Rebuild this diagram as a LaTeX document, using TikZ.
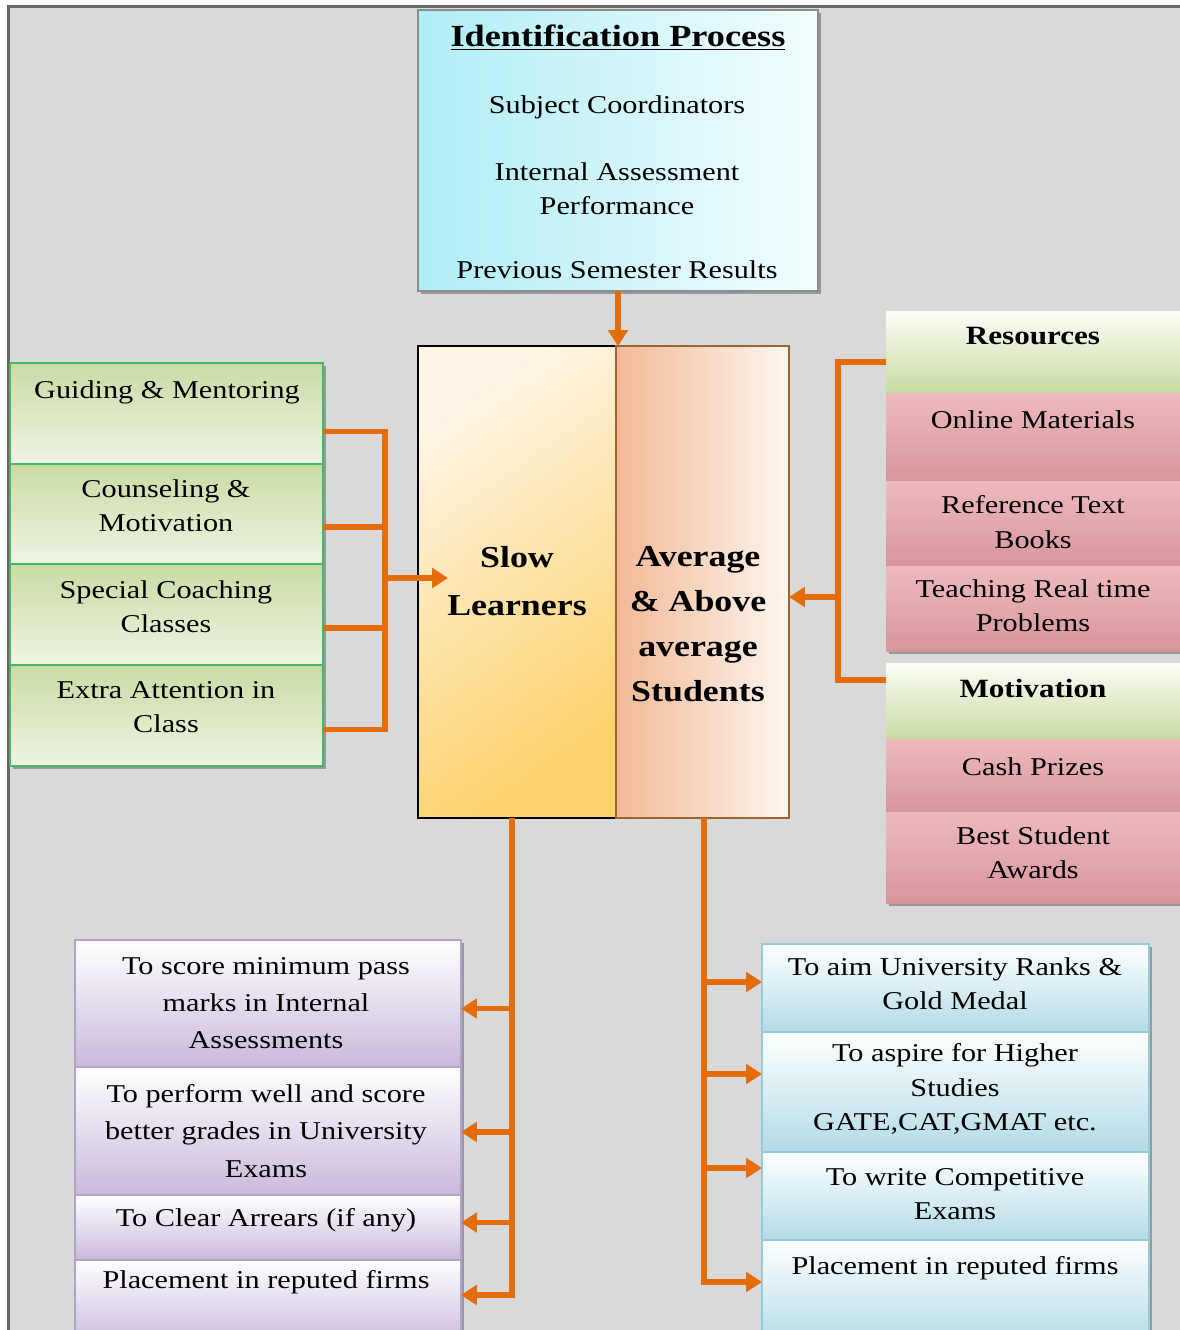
\documentclass[tikz,border=0pt]{standalone}
\usepackage{fontspec}
\setmainfont{Liberation Serif}[FakeStretch=1.18]
\usetikzlibrary{arrows.meta,calc,shadows}

\definecolor{pagegray}{HTML}{D9D9D9}
\definecolor{framegray}{HTML}{666666}
\definecolor{arrorange}{HTML}{E46C0A}
\definecolor{cyanA}{HTML}{B0EDF6}
\definecolor{cyanB}{HTML}{F2FDFE}
\definecolor{creamA}{HTML}{FEF5E6}
\definecolor{creamB}{HTML}{FCD16A}
\definecolor{salmonA}{HTML}{F2B996}
\definecolor{salmonB}{HTML}{FDF6EF}
\definecolor{greenA}{HTML}{C9DBA3}
\definecolor{greenB}{HTML}{EFF4E4}
\definecolor{greenLine}{HTML}{45B866}
\definecolor{headTop}{HTML}{FCFDF8}
\definecolor{headBot}{HTML}{C7DBA2}
\definecolor{pinkA}{HTML}{EDBABF}
\definecolor{pinkM}{HTML}{F7E1E3}
\definecolor{pinkB}{HTML}{D8959C}
\definecolor{lavA}{HTML}{FFFFFF}
\definecolor{lavB}{HTML}{C9B9DB}
\definecolor{lavLine}{HTML}{B3A3CC}
\definecolor{blueA}{HTML}{FFFFFF}
\definecolor{blueB}{HTML}{B3DBE6}
\definecolor{blueLine}{HTML}{93CDDC}

% box from corner (x1,y1) to corner (x2,y2), pixel-like units
\newcommand\pbox[6]{%
  \node[#1, minimum width={0.02cm*(#5-#3)}, minimum height={0.02cm*(#6-#4)}]
    (#2) at ({(#3+#5)/2},{(#4+#6)/2}) {};}

\begin{document}
\begin{tikzpicture}[x=0.02cm,y=-0.02cm,
  base/.style={rectangle, inner sep=0pt, outer sep=0pt},
  shade/.style={drop shadow={shadow xshift=1.5pt, shadow yshift=-1.5pt, opacity=0.45, fill=black!70}},
  identbox/.style={base, draw=black!45, line width=0.6pt, left color=cyanA, right color=cyanB, shade},
  slowbox/.style={base, draw=black, line width=1pt, top color=creamA, bottom color=creamB, shading angle=35},
  avebox/.style={base, draw=brown!80!black, line width=0.6pt, left color=salmonA, right color=salmonB},
  gbox/.style={base, draw=greenLine, line width=0.8pt, top color=greenA, bottom color=greenB, shade},
  headbox/.style={base, top color=headTop, bottom color=headBot, shade},
  pinkbox/.style={base, top color=pinkA, middle color=pinkM, bottom color=pinkB, shade},
  lavbox/.style={base, draw=lavLine, line width=0.6pt, top color=lavA, bottom color=lavB, shade},
  bluebox/.style={base, draw=blueLine, line width=0.6pt, top color=blueA, bottom color=blueB, shade},
  conn/.style={draw=arrorange, line width=3.1pt},
  arr/.style={conn, -{Triangle[length=9pt,width=11pt]}},
  txt/.style={inner sep=0pt, align=center, font=\fontsize{14.6}{19.5}\selectfont},
  txtw/.style={inner sep=0pt, align=center, font=\fontsize{14.6}{21.2}\selectfont},
  btxt/.style={inner sep=0pt, align=center, font=\fontsize{15}{19}\selectfont\bfseries},
  bigtxt/.style={inner sep=0pt, align=center, font=\fontsize{17.3}{25.5}\selectfont\bfseries}]

\path[use as bounding box] (0,0) rectangle (1180,1330);
\clip (0,0) rectangle (1180,1330);

% page background and frame
\fill[white] (0,0) rectangle (1180,1330);
\fill[pagegray] (7,5) rectangle (1180,1330);
\draw[framegray, line width=1.7pt] (8.5,1330) -- (8.5,6.5) -- (1180,6.5);

% identification block
\pbox{identbox}{ident}{418}{10}{818}{291}

% central split block
\pbox{slowbox}{slow}{418}{346}{616}{818}
\pbox{avebox}{ave}{616}{346}{789}{818}

% remedial measures (left)
\pbox{gbox}{guide}{10}{363}{323}{464}
\pbox{gbox}{couns}{10}{464}{323}{564}
\pbox{gbox}{coach}{10}{564}{323}{665}
\pbox{gbox}{extra}{10}{665}{323}{766}

% resources and motivation (right)
\pbox{headbox}{res}{886}{311}{1190}{393}
\pbox{pinkbox}{online}{886}{393}{1190}{481}
\pbox{pinkbox}{reftb}{886}{481}{1190}{566}
\pbox{pinkbox}{teach}{886}{566}{1190}{651}
\pbox{headbox}{motiv}{886}{663}{1190}{739}
\pbox{pinkbox}{cash}{886}{739}{1190}{812}
\pbox{pinkbox}{best}{886}{812}{1190}{903}

% goals for slow learners
\pbox{lavbox}{bla}{75}{940}{461}{1067}
\pbox{lavbox}{blb}{75}{1067}{461}{1195}
\pbox{lavbox}{blc}{75}{1195}{461}{1260}
\pbox{lavbox}{bld}{75}{1260}{461}{1345}

% goals for average and above average students
\pbox{bluebox}{bra}{762}{944}{1149}{1032}
\pbox{bluebox}{brb}{762}{1032}{1149}{1152}
\pbox{bluebox}{brc}{762}{1152}{1149}{1240}
\pbox{bluebox}{brd}{762}{1240}{1149}{1345}

% connectors
\draw[arr] (ident.south) -- (ident.south |- slow.north);

\coordinate (lj) at (385,578);
\draw[conn] ($(guide.east)+(0,18)$) -| (lj);
\draw[conn] ($(couns.east)+(0,13)$) -| (lj);
\draw[conn] ($(coach.east)+(0,13.5)$) -| (lj);
\draw[conn] ($(extra.east)+(0,14)$) -| (lj);
\coordinate (slowin) at ($(slow.west |- lj)+(30,0)$);
\draw[arr] (lj) -- (slowin);

\coordinate (rj) at (838,597);
\draw[conn] ($(res.west)+(0,10)$) -| (rj);
\draw[conn] ($(motiv.west)+(0,-21)$) -| (rj);
\draw[arr] (rj) -- (ave.east |- rj);

\coordinate (ltop) at ($(slow.south)+(-5,0)$);
\draw[arr] (ltop) |- ($(bld.east)+(0,-7.5)$);
\draw[arr] ($(ltop |- bla.east)+(0,5)$) -- ($(bla.east)+(0,5)$);
\draw[arr] ($(ltop |- blb.east)+(0,1)$) -- ($(blb.east)+(0,1)$);
\draw[arr] ($(ltop |- blc.east)+(0,-5)$) -- ($(blc.east)+(0,-5)$);

\coordinate (rtop) at ($(ave.south)+(1.5,0)$);
\draw[arr] (rtop) |- ($(brd.west)+(0,-10.5)$);
\draw[arr] ($(rtop |- bra.west)+(0,-6)$) -- ($(bra.west)+(0,-6)$);
\draw[arr] ($(rtop |- brb.west)+(0,-18)$) -- ($(brb.west)+(0,-18)$);
\draw[arr] ($(rtop |- brc.west)+(0,-28)$) -- ($(brc.west)+(0,-28)$);

% texts
\node[inner sep=0pt, font=\fontsize{17.5}{20}\selectfont\bfseries] (identT) at (618,38) {\underline{Identification Process}};
\node[txt] (identA) at (617,107) {Subject Coordinators};
\node[txt] (identB) at (617,189) {Internal Assessment\\Performance};
\node[txt] (identC) at (617,270) {Previous Semester Results};

\node[bigtxt, font=\fontsize{17.3}{27}\selectfont\bfseries] (slowT) at (517,581) {Slow\\Learners};
\node[bigtxt] (aveT) at (698,624) {Average\\\& Above\\average\\Students};

\node[txt] (guideT) at (167,392) {Guiding \& Mentoring};
\node[txt] (counsT) at (166,506) {Counseling \&\\Motivation};
\node[txt] (coachT) at (166,607) {Special Coaching\\Classes};
\node[txt] (extraT) at (166,707) {Extra Attention in\\Class};

\node[btxt] (resT) at (1033,336) {Resources};
\node[txt] (onlineT) at (1033,420) {Online Materials};
\node[txt] (reftbT) at (1033,522) {Reference Text\\Books};
\node[txt] (teachT) at (1033,606) {Teaching Real time\\Problems};
\node[btxt] (motivT) at (1033,688) {Motivation};
\node[txt] (cashT) at (1033,767) {Cash Prizes};
\node[txt] (bestT) at (1033,853) {Best Student\\Awards};

\node[txtw] (blaT) at (266,1003) {To score minimum pass\\marks in Internal\\Assessments};
\node[txtw] (blbT) at (266,1131) {To perform well and score\\better grades in University\\Exams};
\node[txt] (blcT) at (266,1220) {To Clear Arrears (if any)};
\node[txt] (bldT) at (266,1282) {Placement in reputed firms};

\node[txt] (braT) at (955,984) {To aim University Ranks \&\\Gold Medal};
\node[txt] (brbT) at (955,1089) {To aspire for Higher\\Studies\\GATE,CAT,GMAT etc.};
\node[txt] (brcT) at (955,1194) {To write Competitive\\Exams};
\node[txt] (brdT) at (955,1268) {Placement in reputed firms};
\end{tikzpicture}
\end{document}
